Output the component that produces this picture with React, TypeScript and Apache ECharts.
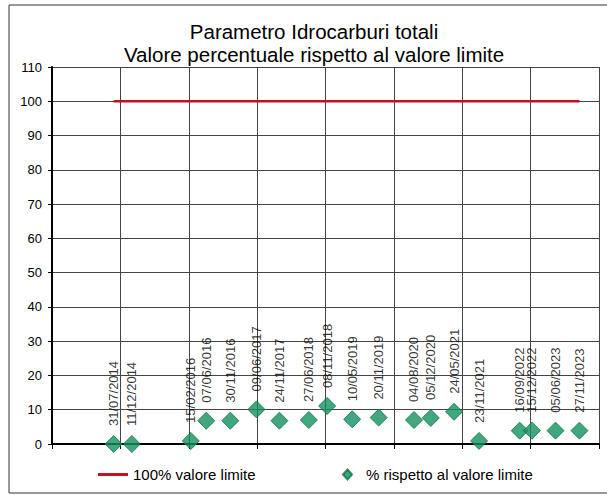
import React, { useEffect, useRef } from "react";
import * as echarts from "echarts";

const titleLines = ["Parametro Idrocarburi totali", "Valore percentuale rispetto al valore limite"];
const sampleDates = [
  "31/07/2014", "11/12/2014", "15/02/2016", "07/06/2016", "30/11/2016",
  "09/06/2017", "24/11/2017", "27/06/2018", "08/11/2018", "10/05/2019",
  "20/11/2019", "04/08/2020", "05/12/2020", "24/05/2021", "23/11/2021",
  "16/09/2022", "15/12/2022", "05/06/2023", "27/11/2023",
];
const percentValues = [0, 0, 0.9, 6.8, 6.8, 10.1, 6.8, 7, 11.1, 7.2, 7.7, 7, 7.6, 9.4, 0.9, 3.9, 3.9, 3.9, 3.9];
const limitValues = [100, 100, 100, 100, 100, 100, 100, 100, 100, 100, 100, 100, 100, 100, 100, 100, 100, 100, 100];
const limitName = "100% valore limite";
const percentName = "% rispetto al valore limite";

// Excel date serial numbers (the original chart's date axis)
const toSerial = (s: string) => {
  const [d, m, y] = s.split("/").map(Number);
  return Date.UTC(y, m - 1, d) / 86400000 + 25569;
};

const FONT = "Arial, 'Liberation Sans', sans-serif";

export default function App() {
  const ref = useRef<HTMLDivElement>(null);
  useEffect(() => {
    document.body.style.margin = "0";
    const chart = echarts.init(ref.current!, null, { renderer: "svg" });
    const xs = sampleDates.map(toSerial);
    chart.setOption({
      animation: false,
      backgroundColor: "#ffffff",
      textStyle: { fontFamily: FONT },
      graphic: [
        {
          type: "rect",
          shape: { x: 9, y: 5, width: 640, height: 488 },
          style: { fill: "none", stroke: "#333", lineWidth: 1 },
          silent: true,
        },
        {
          type: "text",
          x: 314,
          y: 31,
          style: { text: titleLines[0], fontSize: 20.5, fontFamily: FONT, fill: "#000", align: "center", verticalAlign: "middle" },
        },
        {
          type: "text",
          x: 314,
          y: 54.5,
          style: { text: titleLines[1], fontSize: 20.5, fontFamily: FONT, fill: "#000", align: "center", verticalAlign: "middle" },
        },
      ],
      legend: [
        {
          data: [limitName],
          left: 98,
          top: 467,
          padding: 0,
          icon: "rect",
          itemWidth: 30,
          itemHeight: 3,
          itemGap: 5,
          textStyle: { fontSize: 15, fontFamily: FONT, color: "#000" },
        },
        {
          data: [percentName],
          left: 342,
          top: 467,
          padding: 0,
          icon: "diamond",
          itemWidth: 9,
          itemHeight: 10,
          textStyle: { fontSize: 15, fontFamily: FONT, color: "#000", padding: [0, 0, 0, 9] },
        },
      ],
      grid: { left: 52, top: 67, width: 547, height: 377, containLabel: false },
      xAxis: {
        type: "value",
        min: 41400,
        max: 45400,
        interval: 500,
        axisLabel: { show: false },
        axisLine: { show: true, onZero: true, lineStyle: { color: "#000", width: 2 } },
        axisTick: { show: true, length: 5, lineStyle: { color: "#000", width: 1 } },
        splitLine: { show: true, lineStyle: { color: "#444", width: 1 } },
      },
      yAxis: {
        type: "value",
        min: 0,
        max: 110,
        interval: 10,
        axisLabel: { fontSize: 13, fontFamily: FONT, color: "#000", margin: 10 },
        axisLine: { show: true, lineStyle: { color: "#000", width: 2 } },
        axisTick: { show: true, length: 4, lineStyle: { color: "#000", width: 1 } },
        splitLine: { show: true, lineStyle: { color: "#444", width: 1 } },
      },
      series: [
        {
          name: limitName,
          type: "line",
          data: xs.map((x, i) => [x, limitValues[i]]),
          showSymbol: false,
          symbol: "none",
          lineStyle: { color: "#c4111f", width: 2.5 },
          itemStyle: { color: "#c4111f" },
          z: 3,
        },
        {
          name: percentName,
          type: "scatter",
          data: xs.map((x, i) => [x, percentValues[i]]),
          symbol: "diamond",
          symbolSize: [17, 17],
          itemStyle: { color: "#13905f", borderColor: "#0b7249", borderWidth: 1 },
          label: {
            show: true,
            position: "top",
            distance: 9,
            rotate: 90,
            align: "left",
            verticalAlign: "middle",
            fontSize: 13,
            fontFamily: FONT,
            color: "#000",
            formatter: (p: any) => sampleDates[p.dataIndex],
          },
          labelLayout: { hideOverlap: false },
          z: 4,
        },
      ],
    });
    return () => chart.dispose();
  }, []);
  return <div ref={ref} style={{ position: "fixed", left: 0, top: 0, width: 607, height: 495 }} />;
}
